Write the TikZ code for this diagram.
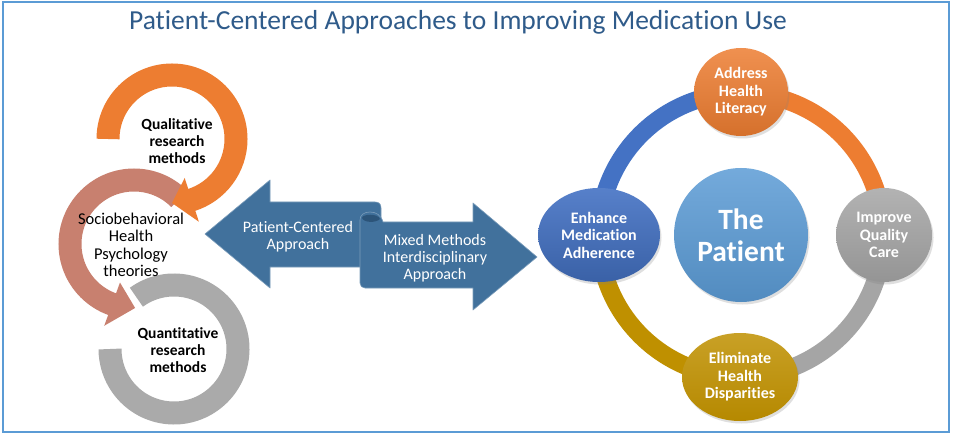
\documentclass[tikz,border=0pt]{standalone}
\usepackage{fontspec}
\setmainfont{Carlito}[Ligatures=NoCommon]
\usetikzlibrary{calc,shadows,shapes.geometric}
\definecolor{frameblue}{HTML}{5B9BD5}
\definecolor{titleblue}{HTML}{2F5B8A}
\definecolor{qorange}{HTML}{ED7D31}
\definecolor{qsalmon}{HTML}{C8806F}
\definecolor{qgray}{HTML}{AAAAAA}
\definecolor{arrowblue}{HTML}{41719C}
\definecolor{curlblue}{HTML}{2C5479}
\definecolor{ringblue}{HTML}{4472C4}
\definecolor{ringorange}{HTML}{ED7D31}
\definecolor{ringgray}{HTML}{A5A5A5}
\definecolor{ringgold}{HTML}{BF9000}
\begin{document}
\begin{tikzpicture}[x=1pt,y=1pt,
  boldlbl/.style={align=center, font=\fontsize{15.5}{17}\selectfont\bfseries, text=black, inner sep=0pt},
  reglbl/.style={align=center, font=\fontsize{16.5}{17.5}\selectfont, text=black, inner sep=0pt},
  arrowlbl/.style={align=center, font=\fontsize{16}{17}\selectfont, text=white, inner sep=0pt},
  arcband/.style={line width=23pt},
  ringband/.style={line width=18pt},
  bubble/.style={ellipse, inner sep=0pt, align=center, text=white,
     font=\fontsize{16}{17.5}\selectfont\bfseries,
     drop shadow={opacity=0.25, shadow xshift=1.5pt, shadow yshift=-2.5pt}},
  arrowshape/.style={fill=arrowblue, draw=arrowblue!70!white, line width=0.6pt, line join=round}
]
\useasboundingbox (0,0) rectangle (960,434);
\fill[white] (0,0) rectangle (960,434);
\draw[frameblue, line width=2.5pt] (3,2) rectangle (949,432);

% title
\node[font=\fontsize{27.5}{30}\selectfont, text=titleblue, anchor=base] (title) at (458,404.5)
  {Patient-Centered Approaches to Improving Medication Use};

% ---------- left circular arrows ----------
\coordinate (cq) at (172,295);
\coordinate (cs) at (134,190);
\coordinate (cg) at (174,85);

% gray (quantitative)
\draw[qgray, arcband] ($(cg)+(126:64pt)$) arc[start angle=126, end angle=-180, radius=64pt];
% salmon (sociobehavioral)
\draw[qsalmon, arcband] ($(cs)+(45:64pt)$) arc[start angle=45, end angle=251, radius=64pt];
\fill[qsalmon] ($(cs)+(250:41pt)$) -- ($(cs)+(250:87pt)$) -- ($(cs)+(271:64pt)$) -- cycle;
% orange (qualitative)
\draw[qorange, arcband] ($(cq)+(180:64pt)$) arc[start angle=180, end angle=-73, radius=64pt];
\fill[qorange] ($(cq)+(-72:41pt)$) -- ($(cq)+(-72:87pt)$) -- ($(cq)+(-90:64pt)$) -- cycle;

\node[boldlbl] (qual) at (177,293) {Qualitative\\research\\methods};
\node[reglbl] (socio) at (131,189) {Sociobehavioral\\Health\\Psychology\\theories};
\node[boldlbl] (quant) at (178,84) {Quantitative\\research\\methods};

% ---------- blue arrows ----------
\path[arrowshape] (205,200) -- (270,254) -- (270,232) -- (375,232)
   .. controls (379,232) and (381,230) .. (381,226) -- (381,167)
   -- (270,167) -- (270,146) -- cycle;
\path[arrowshape] (537,177) -- (473,231) -- (473,212) -- (383,212)
   .. controls (381,219) and (376,222) .. (370,222)
   .. controls (364,222) and (360,219) .. (360,214)
   -- (360,151) .. controls (360,148) and (362,146) .. (365,146)
   -- (473,146) -- (473,124) -- cycle;
\fill[curlblue] (362,216) .. controls (362,220) and (378,221) .. (380,215)
   .. controls (376,211) and (364,211) .. (362,216) -- cycle;

\node[arrowlbl] (pca) at (298,197) {Patient-Centered\\Approach};
\node[arrowlbl] (mma) at (435,176) {Mixed Methods\\Interdisciplinary\\Approach};

% ---------- right ring ----------
\coordinate (rc) at (741,199);
\draw[ringblue, ringband] ($(rc)+(180:142pt)$) arc[start angle=180, end angle=90, radius=142pt];
\draw[ringorange, ringband] ($(rc)+(90:142pt)$) arc[start angle=90, end angle=0, radius=142pt];
\draw[ringgray, ringband] ($(rc)+(0:142pt)$) arc[start angle=0, end angle=-90, radius=142pt];
\draw[ringgold, ringband] ($(rc)+(-90:142pt)$) arc[start angle=-90, end angle=-180, radius=142pt];

\node[bubble, minimum width=94pt, minimum height=88pt,
      top color=qorange!85!white, bottom color=qorange!90!black] (addr) at (741,342)
      {Address\\Health\\Literacy};
\node[bubble, minimum width=122pt, minimum height=94pt,
      top color=ringblue!90!white, bottom color=ringblue!85!black] (enh) at (599,199)
      {Enhance\\Medication\\Adherence};
\node[bubble, minimum width=96pt, minimum height=94pt,
      top color=ringgray!85!white, bottom color=ringgray!90!black] (imp) at (884,199)
      {Improve\\Quality\\Care};
\node[bubble, minimum width=116pt, minimum height=88pt,
      top color=ringgold!85!white, bottom color=ringgold!95!black] (elim) at (740,57)
      {Eliminate\\Health\\Disparities};
\node[bubble, minimum width=134pt, minimum height=134pt,
      font=\fontsize{29.5}{32}\selectfont\bfseries,
      top color=frameblue!85!white, bottom color=frameblue!90!black] (pat) at (741,199)
      {The\\Patient};
\end{tikzpicture}
\end{document}
